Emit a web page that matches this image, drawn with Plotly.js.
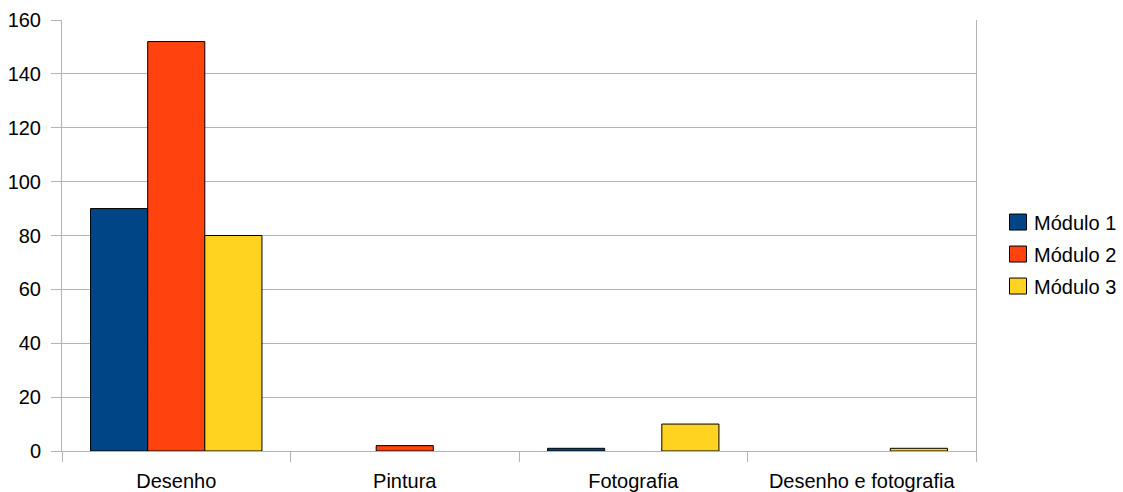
<!DOCTYPE html>
<html>
<head>
<meta charset="utf-8">
<script src="https://cdn.plot.ly/plotly-3.0.1.min.js"></script>
<style>
  html, body { margin: 0; padding: 0; background: #ffffff; }
  #chart { width: 1123px; height: 492px; }
</style>
</head>
<body>
<div id="chart"></div>
<script>
// Categorias de técnica e contagens por módulo
const categories = ["Desenho", "Pintura", "Fotografia", "Desenho e fotografia"];
const seriesNames = ["Módulo 1", "Módulo 2", "Módulo 3"];
const modulo1 = [90, 0, 1, 0];
const modulo2 = [152, 2, 0, 0];
const modulo3 = [80, 0, 10, 1];
const seriesColors = ["#004586", "#ff420e", "#ffd320"];
const yTicks = [0, 20, 40, 60, 80, 100, 120, 140, 160];

const values = [modulo1, modulo2, modulo3];
const FONT = "Liberation Sans, Arial, sans-serif";
const GRID = "#b3b3b3";
const FS = 20;

// Zero counts leave an empty slot instead of a hairline bar
const traces = values.map((v, i) => ({
  type: "bar",
  name: seriesNames[i],
  legendgroup: "g" + i,
  x: categories,
  y: v.map(n => (n === 0 ? null : n)),
  marker: { color: seriesColors[i], line: { color: "#000000", width: 1 } },
  hoverinfo: "x+y+name"
}));

const layout = {
  width: 1123,
  height: 492,
  margin: { l: 62, r: 147, t: 20, b: 41, pad: 0, autoexpand: false },
  paper_bgcolor: "#ffffff",
  plot_bgcolor: "#ffffff",
  font: { family: FONT, size: FS, color: "#000000" },
  barmode: "group",
  bargap: 0.25,
  bargroupgap: 0,
  showlegend: true,
  legend: {
    x: 1.0197, xanchor: "left",
    y: 0.457, yanchor: "middle",
    traceorder: "grouped",
    tracegroupgap: 3,
    font: { family: FONT, size: FS, color: "#000000" },
    bgcolor: "rgba(0,0,0,0)",
    borderwidth: 0,
    itemclick: false
  },
  xaxis: {
    type: "category",
    tickson: "boundaries",
    ticks: "outside",
    ticklen: 10,
    tickwidth: 1,
    tickcolor: GRID,
    ticklabelstandoff: 12,
    showline: true,
    linecolor: GRID,
    linewidth: 1,
    showgrid: false,
    zeroline: false,
    tickfont: { family: FONT, size: FS, color: "#000000" },
    fixedrange: true
  },
  yaxis: {
    range: [0, 160],
    tickmode: "array",
    tickvals: yTicks,
    ticktext: yTicks.map(String),
    ticks: "outside",
    ticklen: 10,
    tickwidth: 1,
    tickcolor: GRID,
    ticklabelstandoff: 6,
    showline: true,
    mirror: true,
    linecolor: GRID,
    linewidth: 1,
    showgrid: true,
    gridcolor: GRID,
    gridwidth: 1,
    zeroline: false,
    tickfont: { family: FONT, size: FS, color: "#000000" },
    fixedrange: true
  }
};

Plotly.newPlot("chart", traces, layout, { displayModeBar: false, staticPlot: true }).then(() => {
  // Larger square legend swatches, nudged toward the labels
  document.querySelectorAll("#chart .legendpoints path").forEach(p => {
    const base = p.getAttribute("transform") || "";
    p.setAttribute("d", "M8.5,8H-8.5V-8H8.5Z");
    p.setAttribute("transform", (base + " translate(4,0)").trim());
    p.style.strokeWidth = "1px";
    p.style.stroke = "#000000";
  });
});
</script>
</body>
</html>
